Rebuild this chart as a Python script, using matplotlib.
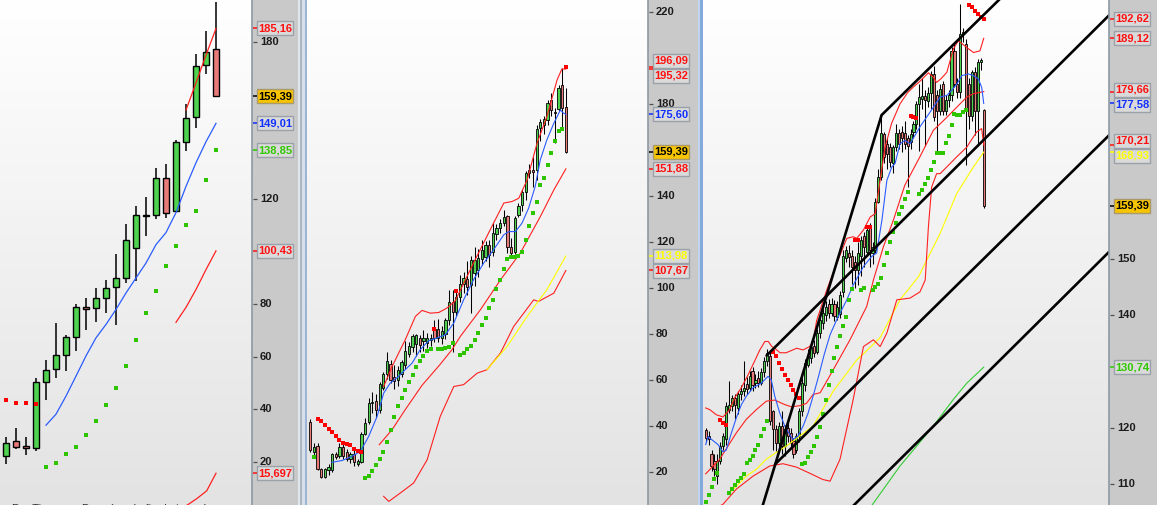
import numpy as np
import matplotlib
matplotlib.use("Agg")
import matplotlib.pyplot as plt
from matplotlib.patches import Rectangle
from matplotlib.colors import LinearSegmentedColormap

plt.rcParams['font.family'] = ['Liberation Sans', 'DejaVu Sans']

# ====================== DATA ======================
# ---- Left panel (22 bars) ----
L_open  = [22.2, 27.9, 26.0, 25.3, 50.3, 55.3, 60.6, 67.5, 78.9, 78.5, 82.3,
           86.8, 89.9, 101.7, 113.6, 114.2, 128.3, 115.7, 142.0, 151.5, 171.3, 177.3]
L_high  = [29.4, 32.9, 29.4, 51.9, 58.7, 72.8, 68.2, 80.0, 82.3, 86.1, 89.5,
           99.4, 110.8, 117.6, 121.1, 132.1, 133.6, 142.7, 156.4, 175.4, 184.2, 195.2]
L_low   = [19.2, 24.9, 22.6, 24.1, 43.5, 51.9, 54.5, 62.1, 70.1, 73.2, 76.6,
           72.0, 88.0, 89.1, 105.9, 112.7, 113.1, 115.2, 138.6, 147.3, 167.8, 159.1]
L_close = [27.1, 25.6, 25.2, 50.3, 54.9, 60.6, 67.5, 79.2, 78.1, 82.3, 86.1,
           89.9, 104.7, 114.2, 114.0, 128.3, 115.0, 142.0, 151.1, 170.9, 176.2, 159.39]
L_ma_x = [4, 5, 6, 7, 8, 9, 10, 11, 12, 13, 14, 15, 16, 17, 18, 19, 20, 21]
L_ma   = [34.0, 38.2, 45.1, 52.7, 60.4, 67.3, 72.4, 78.1, 84.4, 90.1, 95.8,
          102.8, 107.4, 115.0, 125.0, 134.0, 142.0, 149.01]
L_sar_up_x = [4, 5, 6, 7, 8, 9, 10, 11, 12, 13, 14, 15, 16, 17, 18, 19, 20, 21]
L_sar_up   = [18.0, 19.5, 22.9, 25.6, 30.2, 35.5, 41.6, 48.1, 56.4, 66.3, 76.6,
              85.3, 94.8, 102.4, 110.4, 115.7, 127.5, 138.85]
L_sar_dn_x = [0, 1, 2, 3]
L_sar_dn   = [43.5, 42.6, 42.4, 42.0]
L_upper_x = [18, 19, 20, 21]
L_upper   = [154.1, 164.4, 175.0, 185.16]
L_lower_x = [17, 18, 19, 20, 21]
L_lower   = [73.2, 78.9, 85.7, 93.3, 100.43]
L_deep_x = [17.9, 19.07, 20.07, 21.0]
L_deep   = [3.0, 6.0, 9.0, 15.697]
L_ticks = [20, 40, 60, 80, 100, 120, 140, 160, 180]

# ---- Middle panel (71 bars) ----
M_open  = [41.6, 28.7, 31.4, 21.4, 17.8, 21.0, 21.0, 27.8, 27.0, 30.7, 28.7, 25.8, 27.8, 23.5,
           24.5, 36.6, 41.8, 49.8, 50.7, 47.1, 56.4, 62.7, 67.0, 61.3, 60.2, 62.7, 66.5, 71.5,
           74.5, 75.5, 78.5, 77.2, 76.2, 77.5, 82.4, 82.0, 78.3, 80.0, 86.0, 93.9, 89.5, 96.3,
           102.0, 104.0, 101.4, 106.5, 108.0, 112.5, 113.7, 118.8, 115.8, 123.6, 126.1, 128.3,
           131.4, 118.1, 115.8, 131.9, 136.2, 142.0, 150.3, 151.2, 151.4, 169.5, 171.0, 173.2,
           181.9, 176.5, 177.8, 188.4, 179.0]
M_high  = [43.0, 32.6, 32.6, 21.6, 21.9, 23.5, 28.3, 28.6, 32.6, 32.0, 29.8, 28.6, 29.6, 25.5,
           37.6, 43.5, 52.2, 55.0, 54.0, 59.0, 63.5, 72.4, 68.8, 66.5, 66.0, 68.8, 76.8, 76.5,
           80.0, 80.2, 79.5, 81.8, 80.5, 80.0, 86.2, 86.5, 83.5, 87.0, 99.0, 99.3, 99.0, 105.8,
           107.0, 112.0, 114.0, 118.0, 117.0, 121.0, 120.5, 121.0, 128.3, 128.0, 130.0, 134.0,
           132.0, 122.0, 131.5, 137.0, 143.0, 151.0, 154.0, 157.0, 171.0, 173.5, 175.0, 182.0,
           184.8, 178.5, 188.5, 195.6, 187.0]
M_low   = [28.5, 26.8, 21.0, 17.2, 17.2, 18.8, 20.2, 25.8, 26.0, 25.5, 24.6, 24.0, 22.4, 22.5,
           23.9, 36.0, 41.0, 45.6, 43.5, 45.6, 55.5, 60.5, 58.7, 56.0, 57.5, 61.5, 65.0, 70.0,
           72.0, 70.5, 72.0, 72.5, 74.0, 75.0, 76.5, 76.5, 75.5, 78.0, 84.0, 72.0, 88.0, 94.0,
           98.0, 97.0, 89.2, 101.0, 105.0, 110.0, 112.0, 109.0, 114.0, 121.0, 124.0, 127.0,
           115.2, 113.7, 115.0, 131.0, 133.5, 138.4, 148.0, 144.0, 147.1, 164.0, 167.0, 171.0,
           175.0, 163.0, 177.0, 170.0, 158.9]
M_close = [29.7, 30.7, 21.4, 17.8, 21.4, 22.0, 27.8, 26.5, 30.7, 27.0, 25.8, 28.0, 24.2, 24.8,
           36.6, 41.3, 50.0, 50.4, 47.1, 58.4, 62.7, 68.4, 60.1, 59.8, 64.5, 67.7, 72.7, 75.0,
           79.3, 79.5, 75.3, 78.2, 78.5, 78.5, 78.3, 78.5, 81.4, 86.0, 94.0, 89.4, 96.3, 101.9,
           104.2, 100.5, 112.3, 112.3, 113.0, 116.5, 118.8, 114.5, 123.9, 126.1, 128.3, 131.1,
           118.1, 115.2, 130.4, 135.9, 142.0, 150.3, 151.4, 150.6, 169.1, 172.2, 173.6, 180.4,
           177.5, 176.1, 187.0, 178.3, 159.39]
M_ma_x = [5.9, 8.7, 11.4, 13.7, 16, 18.3, 20.1, 21.9, 24.2, 26, 27.9, 30.1, 32.4, 34.7, 37,
          39.3, 42, 44.7, 47.5, 50.2, 53, 54.4, 56.2, 58, 59.8, 61.6, 63, 64.8, 66.7, 68.5,
          69.4, 70]
M_ma   = [24.2, 25.0, 26.8, 28.9, 35.5, 44.2, 54.3, 58.7, 61.6, 64.5, 67.4, 73.2, 77.1, 78.3,
          79.7, 84.8, 94.9, 103.6, 110.9, 116.7, 123.2, 124.6, 124.6, 128.3, 134.8, 144.2,
          155.8, 164.5, 171.7, 177.5, 176.1, 175.6]
M_upper_x = [20.1, 22.4, 26, 28.8, 30.6, 32.9, 35.2, 37.4, 39.7, 44.7, 50.2, 53, 55.3, 57.1,
             59.4, 62.1, 64.8, 67.6, 68.9, 70]
M_upper   = [57.2, 65.9, 77.5, 87.7, 90.3, 89.1, 89.4, 91.3, 94.5, 110.9, 128.3, 137.0, 137.7,
             139.1, 147.1, 163.0, 174.6, 190.6, 195.3, 195.32]
M_lower_x = [18.9, 22.4, 26, 30.6, 35.4, 38.8, 41.1, 46.6, 52.1, 57.5, 63, 66.7, 70]
M_lower   = [31.9, 38.4, 47.1, 57.7, 66.5, 73.2, 79.0, 90.6, 103.6, 115.2, 131.1, 142.7, 151.88]
M_deep_x = [20.1, 21.5, 24.7, 28.3, 32, 35.6, 39.3, 42, 45.7, 48.4, 52.1, 55.7, 61.2, 62.5,
            66.7, 70]
M_deep   = [9.4, 7.2, 10.9, 15.2, 25.3, 44.2, 57.2, 58.0, 63.0, 64.5, 71.8, 83.3, 94.9, 94.2,
            97.8, 107.67]
M_yellow_x = [48.4, 53.9, 59.4, 64.8, 70]
M_yellow   = [64.5, 74.6, 87.7, 99.3, 113.98]
M_sar_up_x = [1, 15, 16, 17, 18, 19, 20, 21, 22, 23, 24, 25, 26, 27, 28, 29, 30, 31, 32, 33,
              35, 36, 37, 38, 39, 41, 42, 43, 44, 45, 46, 47, 48, 49, 50, 51, 52, 53, 54, 55,
              56, 57, 58, 59, 60, 61, 62, 63, 64, 65, 66, 67, 68, 69]
M_sar_up   = [26.5, 17.4, 18.4, 20.6, 23.2, 25.6, 28.9, 33.0, 38.4, 43.9, 48.5, 52.2, 55.5,
              59.0, 62.2, 65.7, 68.5, 70.6, 72.7, 73.6, 73.5, 73.5, 73.9, 74.3, 76.1, 70.8,
              71.8, 73.5, 75.0, 77.5, 80.4, 84.0, 86.9, 91.3, 94.9, 99.6, 103.6, 108.3, 112.7,
              113.5, 113.5, 114.0, 115.7, 120.9, 127.1, 132.6, 137.4, 144.8, 147.8, 153.5,
              158.7, 163.9, 168.3, 169.1]
M_sar_dn_x = [2, 3, 4, 5, 6, 7, 8, 9, 10, 11, 12, 13, 14, 34, 40, 70]
M_sar_dn   = [43.0, 42.0, 40.6, 38.8, 37.2, 35.8, 34.0, 32.6, 32.2, 31.6, 30.1, 29.3, 28.9,
              82.3, 98.8, 196.09]
M_ticks = [20, 40, 60, 80, 100, 120, 140, 160, 180, 200, 220]

# ---- Right panel (96 bars) ----
R_open  = [119.6, 118.6, 115.3, 114.1, 111.4, 114.0, 116.7, 117.9, 123.2, 123.8, 125.3, 123.5,
           125.9, 126.5, 127.8, 127.1, 130.0, 128.0, 128.8, 128.0, 129.8, 131.8, 132.8, 122.9,
           119.7, 117.3, 120.3, 116.7, 120.0, 119.1, 117.6, 116.1, 118.5, 122.9, 127.6, 131.2,
           132.4, 134.5, 133.5, 136.8, 138.5, 140.0, 141.9, 140.3, 142.0, 139.7, 140.2, 144.0,
           150.1, 151.0, 150.4, 149.5, 148.0, 150.5, 154.0, 151.2, 155.7, 151.0, 151.5, 160.1,
           164.5, 172.2, 170.4, 169.8, 167.0, 169.8, 172.3, 172.5, 172.3, 171.5, 170.8, 172.5,
           173.9, 177.5, 178.4, 178.9, 178.0, 179.5, 182.8, 179.0, 176.2, 181.0, 176.2, 178.1,
           179.0, 186.9, 181.0, 179.6, 189.9, 188.1, 181.0, 175.3, 183.1, 176.2, 184.9, 176.4]
R_high  = [120.0, 119.4, 116.0, 115.3, 115.3, 117.5, 119.0, 124.5, 128.2, 125.8, 126.0, 126.5,
           127.5, 131.8, 129.0, 130.0, 130.8, 129.5, 130.0, 130.6, 132.5, 134.0, 133.5, 123.2,
           120.5, 121.0, 122.9, 120.5, 121.0, 120.0, 118.2, 119.0, 123.5, 128.8, 132.2, 134.0,
           135.3, 135.5, 137.5, 140.0, 141.0, 142.5, 142.8, 143.0, 142.7, 142.5, 144.2, 151.5,
           152.2, 152.5, 151.5, 150.5, 153.0, 154.0, 154.8, 156.0, 156.3, 153.0, 160.8, 166.0,
           175.7, 172.5, 171.5, 170.5, 170.2, 174.0, 173.0, 173.5, 174.5, 172.0, 173.0, 174.5,
           178.0, 181.0, 182.0, 180.0, 180.5, 183.3, 184.3, 180.0, 181.0, 181.5, 179.0, 180.0,
           187.5, 188.5, 182.0, 195.2, 191.0, 189.0, 182.0, 183.5, 184.0, 185.5, 185.7, 176.5]
R_low   = [117.5, 117.0, 112.3, 111.4, 110.0, 113.5, 116.0, 117.0, 122.6, 123.0, 121.5, 122.5,
           125.0, 125.6, 126.0, 126.5, 126.5, 127.0, 127.2, 127.5, 129.0, 131.0, 120.5, 116.1,
           115.8, 116.5, 115.3, 115.0, 117.5, 116.5, 114.7, 115.5, 117.5, 122.0, 126.5, 130.8,
           131.5, 132.5, 133.0, 136.0, 137.5, 139.0, 139.5, 139.8, 139.0, 139.2, 139.5, 143.2,
           149.5, 148.5, 145.5, 144.8, 145.3, 147.0, 148.6, 150.5, 148.6, 149.0, 151.0, 159.8,
           164.0, 167.0, 166.0, 166.2, 165.3, 169.2, 169.5, 169.0, 169.5, 162.7, 169.5, 171.5,
           173.0, 169.2, 176.5, 170.0, 177.0, 176.5, 174.5, 169.2, 175.5, 175.5, 175.5, 177.0,
           178.0, 180.5, 178.5, 178.5, 188.5, 166.6, 173.0, 174.5, 172.0, 170.0, 183.5, 159.0]
R_close = [118.2, 117.9, 113.2, 112.6, 114.1, 116.7, 118.5, 123.8, 124.1, 125.3, 124.0, 125.9,
           126.5, 127.1, 126.8, 129.1, 127.6, 128.5, 128.0, 129.8, 131.8, 133.3, 121.2, 119.7,
           117.3, 120.3, 116.7, 119.7, 118.5, 117.3, 115.3, 118.5, 122.9, 127.9, 131.5, 132.7,
           134.4, 133.2, 136.8, 139.2, 140.3, 141.5, 140.3, 141.9, 139.8, 141.5, 143.5, 150.4,
           151.5, 150.3, 148.5, 148.0, 151.0, 153.3, 152.0, 155.1, 151.5, 152.0, 160.1, 164.5,
           172.3, 168.1, 168.6, 167.2, 169.8, 172.3, 170.4, 171.5, 170.4, 170.0, 172.2, 173.9,
           177.5, 178.7, 178.9, 178.1, 179.5, 182.8, 175.1, 176.2, 180.2, 176.2, 178.1, 179.0,
           186.9, 181.0, 179.6, 189.9, 190.3, 176.4, 175.3, 183.1, 176.2, 184.9, 185.2, 159.39]
R_ma_x = [0, 0.8, 4.2, 5.9, 7, 8.8, 10.5, 12.2, 13.9, 16.2, 19, 21.3, 22.4, 23.6, 25.3, 27,
          28.7, 29.8, 31.5, 33.3, 35, 36.7, 38.5, 40.5, 42.5, 44.8, 48.2, 50.4, 53.9, 56.7,
          58.4, 60.2, 61.9, 63.6, 64.7, 66.4, 68.1, 69.8, 71.5, 73.2, 77.8, 80.1, 82.4, 84.1,
          85.8, 87.5, 89.8, 91.5, 93.2, 94.3, 95]
R_ma   = [117.0, 118.4, 117.0, 115.7, 116.0, 119.1, 121.8, 124.1, 125.6, 127.1, 127.9, 129.1,
          128.5, 125.6, 122.6, 120.3, 118.8, 117.9, 118.5, 120.3, 122.6, 125.6, 129.0, 133.0,
          136.5, 139.2, 142.7, 145.3, 148.6, 150.4, 151.0, 156.8, 163.9, 166.3, 166.9, 170.4,
          171.0, 170.4, 171.9, 173.4, 176.9, 178.7, 179.0, 179.9, 181.0, 182.5, 182.8, 182.5,
          181.9, 180.4, 177.58]
R_upper_x = [0, 1.4, 3.6, 5.9, 8.2, 9.9, 12.2, 14.5, 16.7, 18.5, 20.2, 21.4, 22.6, 23.6, 25.4,
             27.5, 31.1, 33.3, 35.5, 36.7, 37.9, 41.4, 44.8, 48.2, 50.4, 51.6, 53.9, 56.2, 57.9,
             59.6, 61.3, 63.5, 66.4, 69, 71, 73.2, 76.1, 77.8, 78.9, 80.5, 82.4, 84.6, 86.3,
             89.2, 91.5, 93.7, 95]
R_upper   = [123.5, 123.2, 122.3, 121.9, 123.2, 125.3, 127.1, 129.4, 131.8, 133.8, 135.3, 135.3,
             134.4, 134.1, 133.3, 133.3, 134.1, 133.8, 134.4, 135.3, 139.0, 144.5, 149.2, 153.6,
             153.9, 153.6, 155.1, 157.4, 158.0, 163.9, 169.8, 174.0, 177.5, 179.5, 180.5, 181.5,
             183.0, 182.2, 181.3, 182.0, 183.1, 187.2, 188.7, 187.5, 186.6, 186.9, 189.12]
R_mid_x = [0, 4.8, 10.5, 13.9, 17.3, 20.7, 23.6, 27, 29.3, 32.1, 34.4, 36.7, 39.1, 43.6, 49.3,
           55, 57.3, 60.7, 64.1, 68, 73.2, 77.8, 82.4, 85.8, 89.2, 91.5, 95]
R_mid   = [111.8, 114.4, 119.1, 121.5, 123.2, 124.7, 124.9, 124.1, 123.7, 123.9, 124.3, 125.9,
           126.2, 130.3, 135.6, 141.5, 146.2, 152.1, 156.8, 163.0, 168.1, 172.8, 175.1, 176.9,
           178.7, 179.3, 179.66]
R_lower_x = [4.5, 5.9, 10.5, 16.2, 21.9, 26.4, 31, 36, 40, 42.5, 45.9, 50.4, 53.9, 57.3, 59.6,
             61.9, 65.3, 69.8, 73.2, 75, 76.1, 77.2, 78.9, 80.1, 82.4, 85.8, 89.2, 90.3, 92.6,
             94.3, 95]
R_lower   = [106.0, 106.4, 109.1, 111.4, 113.2, 113.6, 113.0, 111.8, 110.8, 110.5, 114.4, 125.0,
             134.4, 135.6, 134.4, 136.8, 142.7, 143.0, 144.1, 146.2, 155.7, 162.7, 165.1, 165.1,
             166.3, 168.1, 169.8, 170.7, 172.5, 173.1, 170.21]
R_yellow_x = [7.6, 10.5, 13.9, 17.3, 20.7, 24.1, 27.5, 32.1, 36.7, 43.6, 51.6, 56.5, 59.6,
              66.4, 72.7, 80.1, 85.8, 91.5, 95]
R_yellow   = [108.2, 109.6, 111.4, 112.6, 114.4, 115.6, 116.7, 118.5, 120.3, 126.5, 132.0,
              134.4, 136.0, 142.7, 146.8, 154.5, 161.6, 166.3, 168.93]
R_green_x = [56.5, 66.4, 77.8, 84.6, 89.2, 95]
R_green   = [106.0, 113.2, 120.3, 125.0, 127.9, 130.74]
R_sar_up_x = [0, 1, 2, 3, 4, 8, 9, 10, 11, 12, 13, 14, 15, 16, 17, 18, 19, 20, 21,
              33, 34, 35, 36, 37, 38, 39, 40, 41, 42, 43, 44, 45, 46, 47, 48, 49, 50,
              53, 54, 57, 58, 59, 60, 61, 62, 63, 64, 65, 66, 67, 68, 69,
              73, 74, 75, 76, 77, 78, 79, 80, 81, 82, 83, 84, 85, 86, 87, 88, 89]
R_sar_up   = [106.8, 108.0, 109.5, 110.9, 111.9, 108.4, 109.1, 109.8, 110.5, 111.1, 111.8,
              113.8, 114.2, 115.0, 116.0, 117.0, 118.6, 119.7, 121.2,
              113.6, 113.8, 114.8, 115.7, 116.8, 118.3, 120.2, 122.5, 125.0, 127.6, 130.0,
              132.3, 134.4, 136.3, 138.0, 139.6, 142.6, 144.6,
              144.5, 144.8, 144.5, 144.9, 145.5, 146.5, 148.9, 151.0, 152.9, 154.7, 156.3,
              157.9, 159.2, 160.6, 161.8,
              161.4, 162.2, 163.3, 164.4, 165.7, 167.1, 168.8, 168.8, 168.8, 170.5, 171.7,
              173.7, 175.7, 175.6, 175.6, 176.0, 176.4]
R_sar_dn_x = [5, 6, 7, 23, 24, 25, 26, 27, 28, 29, 30, 31, 32, 51, 52, 55, 56, 70, 71, 72,
              90, 91, 92, 93, 94, 95]
R_sar_dn   = [121.3, 120.9, 120.5, 133.5, 132.7, 131.5, 130.4, 129.4, 128.5, 127.6, 126.6,
              125.9, 125.3, 153.4, 153.4, 155.7, 155.7, 175.4, 175.2, 174.9,
              195.1, 194.6, 194.0, 193.4, 192.9, 192.62]
# channel lines (bar index, price)
R_chan_a_x = [18.2, 60.1, 105.0]
R_chan_a   = [104.0, 175.5, 198.4]
R_chan_c_x = [20.8, 137.8]
R_chan_c   = [132.8, 193.2]
R_chan_d_x = [23.7, 137.8]
R_chan_d   = [113.5, 171.9]
R_chan_e_x = [46.3, 137.8]
R_chan_e   = [104.0, 151.2]
R_ticks = [110, 120, 130, 140, 150, 160, 170, 180, 190]

# value boxes: (value, text, text colour, style)
L_boxes = [(185.16, '185,16', '#ff1010', 'g'), (159.39, '159,39', '#000000', 'gold'),
           (149.01, '149,01', '#1030ff', 'g'), (138.85, '138,85', '#30c800', 'g'),
           (100.43, '100,43', '#ff1010', 'g'), (15.697, '15,697', '#ff1010', 'g')]
M_boxes = [(196.09, '196,09', '#ff1010', 'g'), (195.32, '195,32', '#ff1010', 'g'),
           (175.60, '175,60', '#1030ff', 'g'), (159.39, '159,39', '#000000', 'gold'),
           (151.88, '151,88', '#ff1010', 'g'), (113.98, '113,98', '#ffff00', 'g'),
           (107.67, '107,67', '#ff1010', 'g')]
R_boxes = [(192.62, '192,62', '#ff1010', 'g'), (189.12, '189,12', '#ff1010', 'g'),
           (179.66, '179,66', '#ff1010', 'g'), (177.58, '177,58', '#1030ff', 'g'),
           (170.21, '170,21', '#ff1010', 'g'), (168.93, '168,93', '#ffff00', 'g'),
           (159.39, '159,39', '#000000', 'gold'), (130.74, '130,74', '#30c800', 'g')]

FOOTER_LEFT = 'Pro Time'
FOOTER_RIGHT = 'Données de fin de journée'

# ====================== DRAWING ======================
W, H = 1157, 505
fig = plt.figure(figsize=(W / 100, H / 100), dpi=100)
fig.patch.set_facecolor('#c8c8c8')

GREEN = '#4fd24f'
RED = '#e97a7a'
bg_cmap = LinearSegmentedColormap.from_list('bg', ['#ffffff', '#e3e3e3'])


def add_ax(x0, x1):
    return fig.add_axes([x0 / W, 0, (x1 - x0) / W, 1])


def frect(x, y, w, h, color, z=10):
    fig.add_artist(Rectangle((x / W, 1 - (y + h) / H), w / W, h / H,
                             transform=fig.transFigure, facecolor=color,
                             edgecolor='none', zorder=z))


def plot_panel(x0, x1, xlim, ylim):
    ax = add_ax(x0, x1)
    ax.set_xlim(*xlim)
    ax.set_ylim(*ylim)
    ax.set_xticks([])
    ax.set_yticks([])
    for s in ax.spines.values():
        s.set_visible(False)
    grad = np.linspace(0, 1, 256).reshape(-1, 1)
    ax.imshow(grad, extent=[0, 1, 0, 1], transform=ax.transAxes, aspect='auto',
              cmap=bg_cmap, zorder=0)
    return ax


def candles(ax, o, h, l, c, width, lw_body, lw_wick, min_h):
    o = np.array(o); h = np.array(h); l = np.array(l); c = np.array(c)
    x = np.arange(len(o))
    ax.vlines(x, l, h, color='black', lw=lw_wick, zorder=3)
    bottom = np.minimum(o, c)
    height = np.maximum(np.abs(c - o), min_h)
    cols = [GREEN if cc >= oo else RED for oo, cc in zip(o, c)]
    ax.bar(x, height, bottom=bottom, width=width, color=cols, edgecolor='black',
           linewidth=lw_body, zorder=4)


def strip(x0, x1, ylim, ticks, boxes):
    ax = add_ax(x0, x1)
    wpx = x1 - x0
    ax.set_xlim(0, wpx)
    ax.set_ylim(*ylim)
    ax.set_facecolor('#c9c9c9')
    ax.set_xticks([]); ax.set_yticks([])
    for k, s in ax.spines.items():
        s.set_visible(k == 'left')
    ax.spines['left'].set_color('#8d99a6')
    ax.spines['left'].set_linewidth(1.2)
    ppu = H / (ylim[1] - ylim[0])
    # layout boxes without overlaps (pixel space, y downwards)
    gap = 15.0
    ypx = [(ylim[1] - b[0]) * ppu for b in boxes]
    order = sorted(range(len(boxes)), key=lambda k: ypx[k])
    groups = []
    for k in order:
        groups.append([k])
        while len(groups) > 1:
            g1, g2 = groups[-2], groups[-1]
            c1 = np.mean([ypx[m] for m in g1]); c2 = np.mean([ypx[m] for m in g2])
            b1 = c1 + (len(g1) - 1) * gap / 2
            t2 = c2 - (len(g2) - 1) * gap / 2
            if t2 - b1 < gap:
                groups[-2] = g1 + g2
                groups.pop()
            else:
                break
    pos = {}
    for g in groups:
        cg = np.mean([ypx[m] for m in g])
        for j, m in enumerate(g):
            pos[m] = cg - (len(g) - 1) * gap / 2 + j * gap
    box_px = list(pos.values())
    # ordinary ticks: hidden when a value box sits on them
    for t in ticks:
        tp = (ylim[1] - t) * ppu
        if min(abs(tp - bp) for bp in box_px) < 9.5:
            continue
        ax.plot([1, 5], [t, t], color='#505050', lw=0.9, zorder=2, solid_capstyle='butt')
        ax.text(8, t, str(t), va='center', ha='left', fontsize=8, fontweight='bold',
                color='#1c1c1c', zorder=2)
    bh = 14.0 / ppu
    for k, (val, txt, col, style) in enumerate(boxes):
        yc = ylim[1] - pos[k] / ppu
        dash_col = col if style != 'gold' else '#000000'
        ax.plot([1, 5], [val, val], color=dash_col, lw=1.1, zorder=5, solid_capstyle='butt')
        if style == 'gold':
            fc, ec = '#f7c400', '#a89a6a'
        else:
            fc, ec = '#dadada', '#9aa1a8'
        ax.add_patch(Rectangle((5, yc - bh / 2), 36, bh, facecolor=fc, edgecolor=ec,
                               linewidth=1.0, zorder=4))
        ax.text(23, yc, txt, va='center', ha='center', fontsize=8, fontweight='bold',
                color=col, zorder=6)
    return ax


# ---------- Left ----------
axL = plot_panel(0, 252, (-0.6, 24.6), (3.6, 196.0))
candles(axL, L_open, L_high, L_low, L_close, 0.62, 1.0, 1.1, 0.5)
axL.plot(L_ma_x, L_ma, color='#2a5cff', lw=0.9, zorder=5)
axL.plot(L_upper_x, L_upper, color='#ff2020', lw=0.9, zorder=5)
axL.plot(L_lower_x, L_lower, color='#ff2020', lw=0.9, zorder=5)
axL.plot(L_deep_x, L_deep, color='#ff2020', lw=0.9, zorder=5)
axL.scatter(L_sar_up_x, L_sar_up, marker='s', s=9, color='#2ec400', linewidths=0, zorder=6)
axL.scatter(L_sar_dn_x, L_sar_dn, marker='s', s=9, color='#ff0000', linewidths=0, zorder=6)
strip(252, 298, (3.6, 196.0), L_ticks, L_boxes)

# ---------- Middle ----------
axM = plot_panel(307, 648, (-0.9, 92.5), (5.64, 225.35))
candles(axM, M_open, M_high, M_low, M_close, 0.62, 0.6, 0.75, 0.6)
axM.plot(M_deep_x, M_deep, color='#ff2020', lw=0.8, zorder=5)
axM.plot(M_lower_x, M_lower, color='#ff2020', lw=0.8, zorder=5)
axM.plot(M_upper_x, M_upper, color='#ff2020', lw=0.8, zorder=5)
axM.plot(M_yellow_x, M_yellow, color='#ffff00', lw=0.8, zorder=5)
axM.plot(M_ma_x, M_ma, color='#2a5cff', lw=0.8, zorder=5)
axM.scatter(M_sar_up_x, M_sar_up, marker='s', s=7, color='#2ec400', linewidths=0, zorder=6)
axM.scatter(M_sar_dn_x, M_sar_dn, marker='s', s=7, color='#ff0000', linewidths=0, zorder=6)
strip(648, 698, (5.64, 225.35), M_ticks, M_boxes)

# ---------- Right ----------
axR = plot_panel(703, 1109, (-0.92, 137.8), (106.27, 195.93))
candles(axR, R_open, R_high, R_low, R_close, 0.72, 0.6, 0.75, 0.15)
axR.plot(R_green_x, R_green, color='#33cc33', lw=0.8, zorder=5)
axR.plot(R_yellow_x, R_yellow, color='#ffff00', lw=0.8, zorder=5)
axR.plot(R_lower_x, R_lower, color='#ff2020', lw=0.8, zorder=5)
axR.plot(R_mid_x, R_mid, color='#ff2020', lw=0.8, zorder=5)
axR.plot(R_upper_x, R_upper, color='#ff2020', lw=0.8, zorder=5)
axR.plot(R_ma_x, R_ma, color='#2a5cff', lw=0.8, zorder=5)
axR.scatter(R_sar_up_x, R_sar_up, marker='s', s=7, color='#2ec400', linewidths=0, zorder=6)
axR.scatter(R_sar_dn_x, R_sar_dn, marker='s', s=7, color='#ff0000', linewidths=0, zorder=6)
for xs, ys in [(R_chan_a_x, R_chan_a), (R_chan_c_x, R_chan_c), (R_chan_d_x, R_chan_d),
               (R_chan_e_x, R_chan_e)]:
    axR.plot(xs, ys, color='black', lw=1.9, zorder=7, solid_capstyle='round')
strip(1109, 1157, (106.27, 195.93), R_ticks, R_boxes)

# ---------- separators ----------
frect(298, 0, 2, H, '#dfe6ee')
frect(300, 0, 2, H, '#aeb7c1')
frect(302, 0, 3, H, '#d6e0ea')
frect(305, 0, 2, H, '#9cb4d6')
frect(698, 0, 2, H, '#c2d5ef')
frect(700, 0, 3, H, '#86a9dc')

# ---------- footer text (cut by the lower frame edge, as in the original) ----------
fig.text(12 / W, 1 - 511.5 / H, FOOTER_LEFT, fontsize=8, color='#303030',
         va='baseline', ha='left')
fig.text(82 / W, 1 - 511.5 / H, FOOTER_RIGHT, fontsize=8, color='#303030',
         va='baseline', ha='left')

fig.savefig('out.png', dpi=100, facecolor=fig.get_facecolor())
